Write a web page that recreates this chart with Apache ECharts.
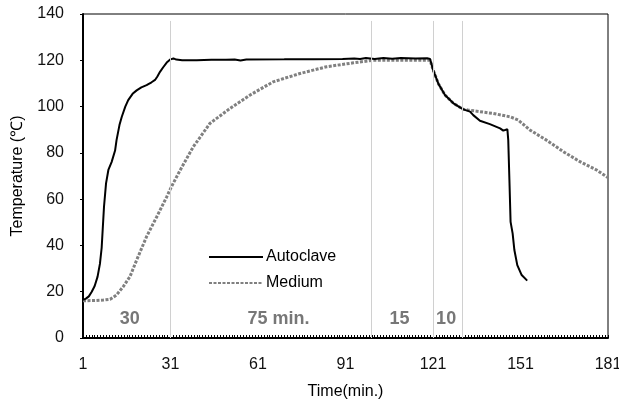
<!DOCTYPE html>
<html>
<head>
<meta charset="utf-8">
<script src="https://cdn.jsdelivr.net/npm/echarts@6/dist/echarts.min.js"></script>
<style>html,body{margin:0;padding:0;background:#fff}#c{width:619px;height:401px}</style>
</head>
<body>
<div id="c"></div>
<script>
// [minute, temperature °C]
const autoclave = [
  [1,16.5],[2,17],[3,18],[4,20],[5,22.5],[6,26.5],[6.8,32],[7.4,39],[8.2,56.7],[8.9,66.8],
  [9.7,72.6],[10.8,76],[12,81],[12.5,85.5],[13.5,92],[14.3,95.6],[15.5,100],[16.5,102.8],
  [18,105.5],[19.4,107],[21,108.3],[22.8,109.3],[24.5,110.5],[25.7,111.5],[26.5,113],
  [27.4,115],[28.5,117],[29.7,119],[31,120.4],[32,120.8],[33,120.3],[35,120],[40,120],
  [45,120.2],[50,120.2],[53,120.3],[55,119.9],[57,120.3],[70,120.4],[80,120.5],[90,120.6],
  [94,120.8],[96,120.6],[98,121],[101,120.6],[104,121],[107,120.7],[110,121],[115,120.8],
  [119,120.9],[120,120.6],[121,116],[122.8,110],[125.1,105],[128,101.4],[131.4,98.8],
  [133.7,97.8],[134.8,96.3],[137.1,93.9],[140.5,92.4],[144,90.6],[145.1,89.6],[146.5,90.2],
  [146.8,85.5],[147.2,68.3],[147.6,50.2],[148.3,45.2],[148.9,38],[149.9,31.5],[151.4,27.2],
  [153.3,24.8]
];
const medium = [
  [1,16.1],[5,16.2],[8,16.4],[10.3,16.7],[12.5,18.6],[14.8,22.2],[17.1,26.5],[19.4,33.7],
  [22.8,43.8],[26.3,52.4],[29.7,61],[31,64.5],[32,67],[34.3,72.5],[38.8,82.6],[44.5,92.7],
  [51.4,99.2],[58.3,105],[66.2,110.7],[75.4,114.3],[84.5,117.2],[93.7,118.9],[100.5,120],
  [110,120],[120,120],[121,116],[122.8,110],[125.1,105],[128,101.4],[131.4,98.8],[133,98.5],
  [136,98],[141.7,97],[147.4,95.6],[150.2,94.2],[154.2,89.9],[159.9,85.5],[165.7,80.5],
  [171.4,76.2],[177.1,72.6],[181,69.3]
];
const phaseLines = [31, 100, 121, 131];
const phaseLabels = [[17,'30'],[68,'75 min.'],[109.5,'15'],[125.5,'10']];
const xTicks = {min:1, max:181, interval:30};
const yTicks = {min:0, max:140, interval:20};

const font = 'Liberation Sans, Arial, sans-serif';
const chart = echarts.init(document.getElementById('c'));
chart.setOption({
  animation:false,
  grid:{left:83,right:11,top:14,bottom:63,show:true,borderColor:'#000',borderWidth:1,
        outerBoundsMode:'none', containLabel:false},
  legend:{
    data:[{name:'Autoclave'},{name:'Medium'}], orient:'vertical', left:203, top:244,
    itemWidth:54, itemHeight:14, itemGap:10,
    itemStyle:{opacity:0},
    textStyle:{fontFamily:font,fontSize:16,color:'#000',padding:[0,0,0,-2]}
  },
  xAxis:{
    type:'value', min:xTicks.min, max:xTicks.max, interval:xTicks.interval,
    name:'Time(min.)', nameLocation:'middle', nameGap:46,
    nameTextStyle:{fontFamily:font,fontSize:16,color:'#000'},
    axisLine:{lineStyle:{color:'#000',width:2}},
    axisTick:{show:true,inside:true,length:3,lineStyle:{color:'#000'}},
    minorTick:{show:true,splitNumber:30,length:3,lineStyle:{color:'#000'}},
    splitLine:{show:false},
    axisLabel:{fontFamily:font,fontSize:16,color:'#111',margin:19}
  },
  yAxis:{
    type:'value', min:yTicks.min, max:yTicks.max, interval:yTicks.interval,
    name:'Temperature (℃)', nameLocation:'middle', nameGap:57,
    nameTextStyle:{fontFamily:font,fontSize:16,color:'#000'},
    axisLine:{show:true,lineStyle:{color:'#000',width:2}},
    axisTick:{show:true,length:3,lineStyle:{color:'#000'}},
    splitLine:{show:false},
    axisLabel:{fontFamily:font,fontSize:16,color:'#111',margin:19}
  },
  series:[
    {
      name:'Medium', type:'line', data:medium, showSymbol:false, symbol:'none',
      lineStyle:{color:'#808080',width:3,type:[3,1.5]}, itemStyle:{color:'#808080'},
      z:2,
      markLine:{
        silent:true, symbol:'none', label:{show:false},
        lineStyle:{color:'#d0d0d0',width:1,type:'solid'},
        data: phaseLines.map(v => [{coord:[v,0]},{coord:[v,137]}])
      }
    },
    {
      name:'Autoclave', type:'line', data:autoclave, showSymbol:false, symbol:'none',
      lineStyle:{color:'#000',width:2}, itemStyle:{color:'#000'}, z:3
    },
    {
      name:'phase', type:'scatter', symbolSize:0, silent:true,
      data: phaseLabels.map(p => ({value:[p[0],8.0], label:{formatter:p[1]}})),
      label:{show:true,position:'inside',fontFamily:font,fontSize:18,fontWeight:'bold',color:'#555'}
    }
  ]
});
</script>
</body>
</html>
